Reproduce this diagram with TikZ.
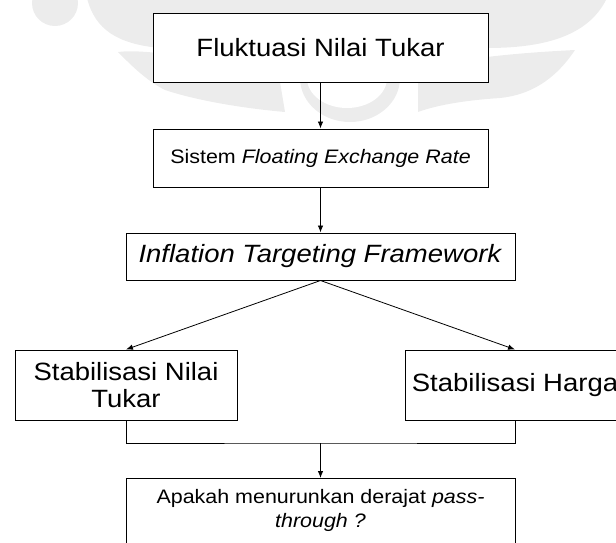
\documentclass[tikz,border=0pt]{standalone}
\usepackage{fontspec}
\setmainfont{Liberation Sans}[FakeStretch=1.1]
\usetikzlibrary{arrows.meta}

\begin{document}
\begin{tikzpicture}[x=1pt,y=-1pt,
    box/.style={rectangle,draw=black,fill=white,line width=1pt,inner sep=0pt,align=center},
    big/.style={box,font=\fontsize{25}{27}\selectfont},
    small/.style={box,font=\fontsize{19.5}{23.5}\selectfont},
    flow/.style={->,>={Latex[length=7pt,width=5.5pt]},line width=0.8pt},
    wm/.style={fill=gray!15},
]
\useasboundingbox (0,0) rectangle (616,542);

%%%
% watermark behind the chart
\fill[wm] (55,3) circle (23);
\fill[wm] (87,-2) .. controls (95,30) and (118,44) .. (160,48) -- (487,48)
    .. controls (540,48) and (588,38) .. (607,-2) -- cycle;
\fill[wm] (118,52) .. controls (140,49) and (200,55) .. (280,82) -- (285,112)
    .. controls (240,108) and (195,100) .. (165,90) .. controls (145,80) and (128,62) .. cycle;
\fill[wm] (575,50) .. controls (555,80) and (530,95) .. (500,98)
    .. controls (470,100) and (440,104) .. (418,112) -- (418,82) -- (487,57)
    .. controls (520,53) and (555,51) .. cycle;
\fill[wm] (350,78) ellipse[x radius=50,y radius=44];
\fill[white] (347,78) ellipse[x radius=40,y radius=30];

%%%
% boxes
\node[big,minimum width=335,minimum height=69] (fluktuasi) at (320.5,47.5) {Fluktuasi Nilai Tukar};
\node[small,minimum width=335,minimum height=58] (floating) at (320.5,158) {Sistem \textit{Floating Exchange Rate}};
\node[big,minimum width=389,minimum height=47] (itf) at (320.5,256.5) {\textit{Inflation Targeting Framework}};
\node[big,minimum width=222,minimum height=70] (stabnt) at (126,385) {Stabilisasi Nilai\\Tukar};
\node[big,minimum width=220,minimum height=70] (stabh) at (515,385) {Stabilisasi Harga};
% lower edge runs past the page
\node[small,minimum width=389,anchor=north,inner ysep=11pt] (pass) at (320.5,478)
    {Apakah menurunkan derajat \textit{pass-}\\\textit{through ?}\rule[-14pt]{0pt}{14pt}};

%%%
% connectors
\draw[flow] (fluktuasi) -- (floating);
\draw[flow] (floating) -- (itf);
\draw[flow] (itf.south) -- (stabnt.north);
\draw[flow] (itf.south) -- (stabh.north);
\coordinate (bus) at (320.5,443);
\draw[line width=0.8pt] (stabnt.south) |- (bus) -| (stabh.south);
\draw[flow] (bus) -- (pass);
\end{tikzpicture}
\end{document}
